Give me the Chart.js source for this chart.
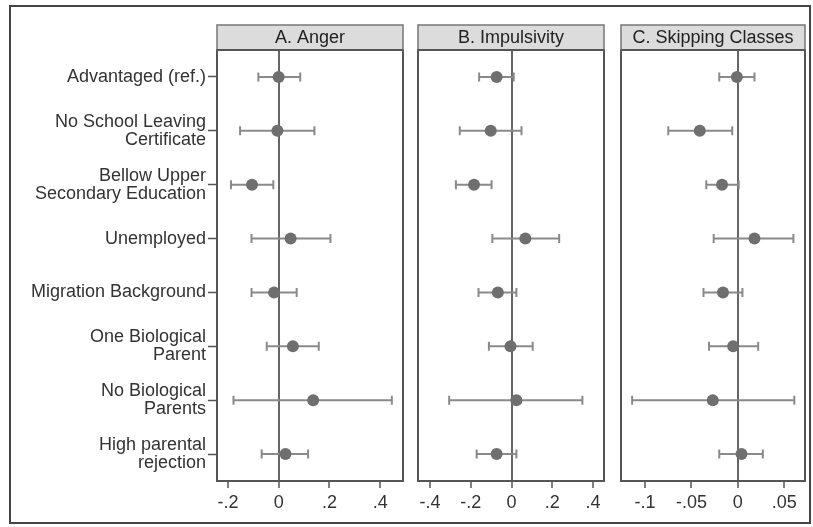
<!DOCTYPE html>
<html>
<head>
<meta charset="utf-8">
<script src="https://cdn.jsdelivr.net/npm/chart.js@4/dist/chart.umd.min.js"></script>
<style>
  html, body { margin: 0; padding: 0; background: #fff; }
  #wrap { position: relative; width: 813px; height: 527px; overflow: hidden; }
  #frame { position: absolute; left: 9px; top: 5px; width: 802px; height: 519px; border: 2px solid #444; box-sizing: border-box; }
  canvas { position: absolute; top: 0; }
</style>
</head>
<body>
<div id="wrap">
  <div id="frame"></div>
  <canvas id="cA" width="410" height="527" style="left:0px"></canvas>
  <canvas id="cB" width="200" height="527" style="left:410px"></canvas>
  <canvas id="cC" width="203" height="527" style="left:610px"></canvas>
</div>
<script>
// Predictors (rows, top to bottom)
const categories = [
  ["Advantaged (ref.)"],
  ["No School Leaving", "Certificate"],
  ["Bellow Upper", "Secondary Education"],
  ["Unemployed"],
  ["Migration Background"],
  ["One Biological", "Parent"],
  ["No Biological", "Parents"],
  ["High parental", "rejection"]
];

// A. Anger: estimates and 95% CI bounds
const angerEst = [0.000, -0.005, -0.105, 0.047, -0.018, 0.056, 0.136, 0.027];
const angerLo  = [-0.080, -0.152, -0.188, -0.107, -0.107, -0.047, -0.178, -0.067];
const angerHi  = [0.085, 0.141, -0.021, 0.204, 0.071, 0.158, 0.446, 0.116];

// B. Impulsivity
const impEst = [-0.073, -0.102, -0.184, 0.068, -0.067, -0.005, 0.024, -0.073];
const impLo  = [-0.159, -0.254, -0.273, -0.094, -0.162, -0.111, -0.306, -0.171];
const impHi  = [0.011, 0.049, -0.098, 0.234, 0.024, 0.104, 0.348, 0.024];

// C. Skipping Classes
const skipEst = [-0.001, -0.041, -0.017, 0.018, -0.016, -0.005, -0.027, 0.004];
const skipLo  = [-0.020, -0.075, -0.034, -0.026, -0.037, -0.031, -0.114, -0.020];
const skipHi  = [0.018, -0.006, 0.001, 0.060, 0.005, 0.022, 0.061, 0.027];

// Axis ticks
const angerTicks = [-0.2, 0, 0.2, 0.4];
const angerTickLabels = ["-.2", "0", ".2", ".4"];
const impTicks = [-0.4, -0.2, 0, 0.2, 0.4];
const impTickLabels = ["-.4", "-.2", "0", ".2", ".4"];
const skipTicks = [-0.1, -0.05, 0, 0.05];
const skipTickLabels = ["-.1", "-.05", "0", ".05"];

const FONT = "'Liberation Sans', Arial, Helvetica, sans-serif";
const TEXT = "#333";
const LINE = "#555";

// Horizontal confidence intervals with end caps
const ciPlugin = {
  id: 'ci',
  beforeDatasetsDraw(chart, args, opts) {
    const { ctx, scales: { x, y } } = chart;
    ctx.save();
    ctx.strokeStyle = '#8a8a8a';
    ctx.lineWidth = 2;
    opts.lo.forEach((lo, i) => {
      const hi = opts.hi[i];
      const py = y.getPixelForValue(i);
      const x0 = x.getPixelForValue(lo), x1 = x.getPixelForValue(hi);
      ctx.beginPath();
      ctx.moveTo(x0, py); ctx.lineTo(x1, py);
      ctx.moveTo(x0, py - 4.5); ctx.lineTo(x0, py + 4.5);
      ctx.moveTo(x1, py - 4.5); ctx.lineTo(x1, py + 4.5);
      ctx.stroke();
    });
    ctx.restore();
  }
};

// Panel outline and grey title strip
const panelPlugin = {
  id: 'panel',
  afterDraw(chart, args, opts) {
    const { ctx, chartArea: a } = chart;
    ctx.save();
    ctx.strokeStyle = LINE;
    ctx.lineWidth = 2;
    ctx.strokeRect(a.left, a.top, a.right - a.left, a.bottom - a.top);
    ctx.fillStyle = '#dcdcdc';
    ctx.fillRect(a.left, 25, a.right - a.left, a.top - 25);
    ctx.strokeStyle = '#777';
    ctx.lineWidth = 1.5;
    ctx.strokeRect(a.left, 25, a.right - a.left, a.top - 25);
    ctx.strokeStyle = LINE;
    ctx.lineWidth = 2;
    ctx.beginPath(); ctx.moveTo(a.left, a.top); ctx.lineTo(a.right, a.top); ctx.stroke();
    ctx.fillStyle = '#222';
    ctx.font = "18px " + FONT;
    ctx.textAlign = 'center';
    ctx.textBaseline = 'middle';
    ctx.fillText(opts.title, (a.left + a.right) / 2, 38);
    ctx.restore();
  }
};

function makePanel(id, title, est, lo, hi, xmin, xmax, ticks, tickLabels, showY, pad) {
  new Chart(document.getElementById(id), {
    type: 'scatter',
    data: {
      datasets: [{
        data: est.map((v, i) => ({ x: v, y: i })),
        pointRadius: 6,
        pointHoverRadius: 6,
        backgroundColor: '#6f6f6f',
        borderWidth: 0
      }]
    },
    options: {
      responsive: false,
      animation: false,
      devicePixelRatio: 1,
      layout: { padding: { left: pad.left, right: pad.right, top: 50, bottom: 0 } },
      plugins: {
        legend: { display: false },
        tooltip: { enabled: false },
        ci: { lo, hi },
        panel: { title }
      },
      scales: {
        x: {
          type: 'linear',
          min: xmin, max: xmax,
          afterBuildTicks: s => { s.ticks = ticks.map(v => ({ value: v })); },
          afterFit: s => { s.height = 46; },
          ticks: {
            autoSkip: false,
            maxRotation: 0,
            padding: 4,
            color: TEXT,
            font: { family: FONT, size: 18 },
            callback: (v) => {
              const k = ticks.findIndex(t => Math.abs(t - v) < 1e-9);
              return k >= 0 ? tickLabels[k] : '';
            }
          },
          grid: {
            drawOnChartArea: true,
            color: c => (c.tick && Math.abs(c.tick.value) < 1e-9) ? '#666' : 'rgba(0,0,0,0)',
            lineWidth: 2,
            drawTicks: true,
            tickLength: 7,
            tickColor: LINE,
            tickWidth: 1.5
          },
          border: { display: false }
        },
        y: {
          type: 'linear',
          display: showY,
          reverse: true,
          min: -0.5, max: 7.5,
          afterBuildTicks: s => { s.ticks = categories.map((_, i) => ({ value: i })); },
          afterFit: s => { if (showY) s.width = 217; },
          ticks: {
            autoSkip: false,
            padding: 2,
            color: TEXT,
            font: { family: FONT, size: 18, lineHeight: 1.0 },
            callback: v => categories[Math.round(v)]
          },
          grid: {
            drawOnChartArea: false,
            drawTicks: true,
            tickLength: 9,
            tickColor: LINE,
            tickWidth: 1.5
          },
          border: { display: false }
        }
      }
    },
    plugins: [ciPlugin, panelPlugin]
  });
}

makePanel('cA', 'A. Anger', angerEst, angerLo, angerHi, -0.243, 0.49,
  angerTicks, angerTickLabels, true, { left: 0, right: 7 });
makePanel('cB', 'B. Impulsivity', impEst, impLo, impHi, -0.459, 0.454,
  impTicks, impTickLabels, false, { left: 8, right: 6 });
makePanel('cC', 'C. Skipping Classes', skipEst, skipLo, skipHi, -0.126, 0.0725,
  skipTicks, skipTickLabels, false, { left: 11, right: 8 });
</script>
</body>
</html>
